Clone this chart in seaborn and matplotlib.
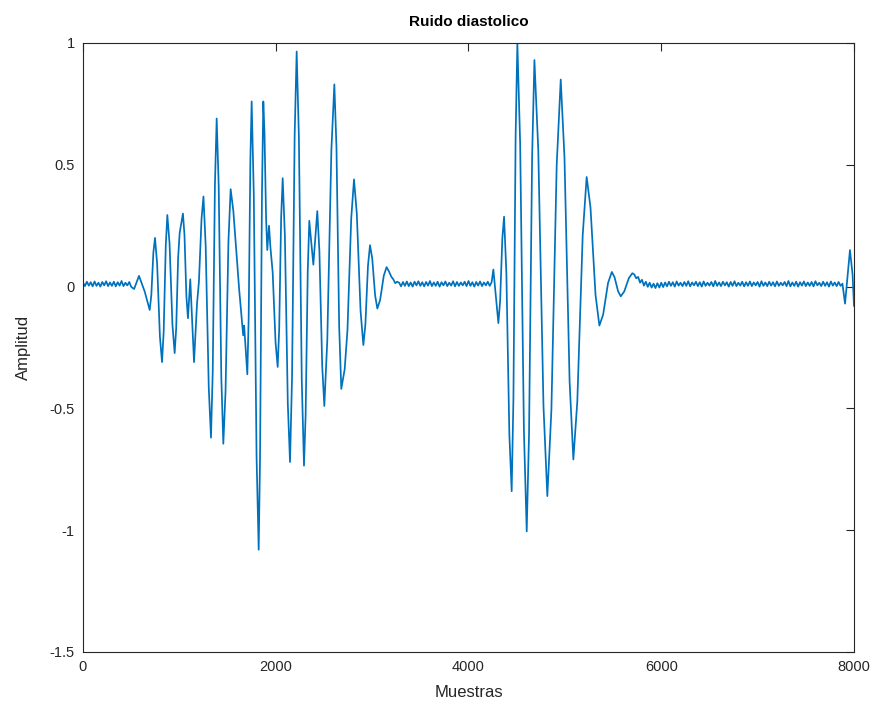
import numpy as np
import pandas as pd
import matplotlib
matplotlib.use("Agg")
import matplotlib.pyplot as plt
import seaborn as sns

# ---------------- data (sample index, amplitude) ----------------
lead_x = [0, 20, 40, 60, 80, 100, 120, 140, 160, 180, 200, 220, 240, 260, 280, 300,
          320, 340, 360, 380, 400, 420, 440, 460, 480, 500]
lead_y = [0.017, 0.002, 0.020, 0.004, 0.018, 0.001, 0.021, 0.003, 0.016, 0.000,
          0.019, 0.005, 0.022, 0.002, 0.017, 0.003, 0.020, 0.001, 0.018, 0.004,
          0.023, 0.002, 0.016, 0.005, 0.019, -0.001]

burst1_x = [530, 581, 640, 692, 709, 730, 747, 769, 798, 820, 837, 859, 875, 898, 928, 951,
            967, 987, 1003, 1037, 1053, 1073, 1089, 1113, 1152, 1183, 1203, 1230, 1250,
            1273, 1305, 1328, 1346, 1369, 1387, 1408, 1435, 1456, 1479, 1509, 1532, 1560,
            1620, 1662, 1672, 1705, 1719, 1737, 1750, 1772, 1801, 1823, 1837, 1857, 1871,
            1883, 1900, 1912, 1930, 1945, 1968, 1998, 2020, 2036, 2056, 2072, 2095, 2125,
            2148, 2169, 2196, 2217, 2240, 2270, 2293, 2310, 2332, 2348, 2390, 2431, 2453,
            2482, 2504, 2535, 2577, 2608, 2630, 2658, 2680, 2715, 2744, 2783, 2812, 2841,
            2880, 2909, 2930, 2957, 2978, 3001, 3031, 3054, 3083, 3121, 3150, 3175, 3200,
            3220, 3240, 3260]
burst1_y = [-0.01, 0.044, -0.02, -0.096, -0.035, 0.139, 0.20, 0.095, -0.205, -0.31, -0.186,
            0.17, 0.294, 0.177, -0.156, -0.273, -0.171, 0.118, 0.22, 0.30, 0.211, -0.041,
            -0.13, 0.03, -0.31, -0.07, 0.021, 0.279, 0.37, 0.166, -0.416, -0.62, -0.35,
            0.42, 0.69, 0.415, -0.37, -0.645, -0.43, 0.185, 0.40, 0.31, -0.01, -0.20,
            -0.16, -0.36, -0.129, 0.529, 0.76, 0.381, -0.701, -1.08, -0.701, 0.381, 0.76,
            0.634, 0.276, 0.15, 0.25, 0.16, 0.059, -0.229, -0.33, -0.17, 0.285, 0.445,
            0.205, -0.48, -0.72, -0.373, 0.618, 0.965, 0.615, -0.385, -0.735, -0.528,
            0.063, 0.27, 0.09, 0.31, 0.145, -0.325, -0.49, -0.218, 0.558, 0.83, 0.572,
            -0.163, -0.42, -0.34, -0.179, 0.279, 0.44, 0.30, -0.10, -0.24, -0.156, 0.086,
            0.17, 0.116, -0.036, -0.09, -0.055, 0.045, 0.08, 0.062, 0.04, 0.03, 0.014, 0.02]

gap_x = [3280, 3300, 3320, 3340, 3360, 3380, 3400, 3420, 3440, 3460,
         3480, 3500, 3520, 3540, 3560, 3580, 3600, 3620, 3640, 3660,
         3680, 3700, 3720, 3740, 3760, 3780, 3800, 3820, 3840, 3860,
         3880, 3900, 3920, 3940, 3960, 3980, 4000, 4020, 4040, 4060,
         4080, 4100, 4120, 4140, 4160, 4180, 4200, 4220, 4240]
gap_y = [0.016, 0.001, 0.019, 0.003, 0.021, 0.002, 0.017, 0.000, 0.020, 0.005,
         0.022, 0.003, 0.018, 0.001, 0.019, 0.004, 0.023, 0.002, 0.017, 0.003,
         0.020, 0.000, 0.018, 0.005, 0.021, 0.002, 0.016, 0.004, 0.022, 0.001,
         0.019, 0.003, 0.017, 0.005, 0.020, 0.002, 0.023, 0.003, 0.018, 0.000,
         0.019, 0.004, 0.021, 0.002, 0.017, 0.005, 0.020, 0.003, 0.018]

burst2_x = [4258, 4310, 4328, 4351, 4369, 4393, 4424, 4448, 4466, 4489, 4507, 4536, 4575,
            4604, 4628, 4660, 4684, 4724, 4778, 4818, 4860, 4915, 4957, 4996, 5049, 5088,
            5129, 5185, 5226, 5266, 5318, 5358, 5397, 5448, 5487, 5515, 5552, 5580, 5616,
            5664, 5700, 5720, 5740, 5760, 5780, 5800, 5820, 5840, 5860, 5880, 5900, 5920,
            5940, 5960, 5980, 6000, 6020]
burst2_y = [0.07, -0.15, -0.06, 0.197, 0.287, 0.055, -0.608, -0.84, -0.461, 0.621, 1.0,
            0.587, -0.592, -1.005, -0.606, 0.531, 0.93, 0.561, -0.491, -0.86, -0.508, 0.498,
            0.85, 0.529, -0.389, -0.71, -0.471, 0.211, 0.45, 0.324, -0.034, -0.16, -0.115,
            0.015, 0.06, 0.039, -0.019, -0.04, -0.02, 0.035, 0.055, 0.05, 0.034, 0.04,
            0.016, 0.028, 0.004, 0.02, -0.001, 0.016, -0.004, 0.012, -0.006, 0.014, -0.004,
            0.016, -0.002]

tail_x = [6040, 6060, 6080, 6100, 6120, 6140, 6160, 6180, 6200, 6220,
          6240, 6260, 6280, 6300, 6320, 6340, 6360, 6380, 6400, 6420,
          6440, 6460, 6480, 6500, 6520, 6540, 6560, 6580, 6600, 6620,
          6640, 6660, 6680, 6700, 6720, 6740, 6760, 6780, 6800, 6820,
          6840, 6860, 6880, 6900, 6920, 6940, 6960, 6980, 7000, 7020,
          7040, 7060, 7080, 7100, 7120, 7140, 7160, 7180, 7200, 7220,
          7240, 7260, 7280, 7300, 7320, 7340, 7360, 7380, 7400, 7420,
          7440, 7460, 7480, 7500, 7520, 7540, 7560, 7580, 7600, 7620,
          7640, 7660, 7680, 7700, 7720, 7740, 7760, 7780, 7800, 7820,
          7840, 7860]
tail_y = [0.017, 0.001, 0.020, 0.003, 0.018, 0.000, 0.021, 0.004, 0.016, 0.002,
          0.019, 0.003, 0.022, 0.001, 0.017, 0.005, 0.020, 0.002, 0.018, 0.000,
          0.021, 0.003, 0.016, 0.004, 0.019, 0.001, 0.023, 0.003, 0.017, 0.002,
          0.020, 0.005, 0.018, 0.000, 0.019, 0.003, 0.022, 0.002, 0.016, 0.004,
          0.020, 0.001, 0.018, 0.003, 0.021, 0.002, 0.017, 0.005, 0.019, 0.000,
          0.022, 0.003, 0.017, 0.002, 0.020, 0.004, 0.018, 0.001, 0.021, 0.003,
          0.016, 0.005, 0.019, 0.002, 0.023, 0.001, 0.017, 0.003, 0.020, 0.000,
          0.018, 0.004, 0.021, 0.002, 0.017, 0.003, 0.019, 0.001, 0.022, 0.005,
          0.016, 0.002, 0.020, 0.003, 0.018, 0.000, 0.021, 0.004, 0.017, 0.002,
          0.019, 0.003]

end_x = [7880, 7907, 7958, 7985, 8000]
end_y = [0.012, -0.07, 0.15, 0.05, -0.08]

x_ticks = [0, 2000, 4000, 6000, 8000]
x_tick_labels = ["0", "2000", "4000", "6000", "8000"]
y_ticks = [-1.5, -1, -0.5, 0, 0.5, 1]
y_tick_labels = ["-1.5", "-1", "-0.5", "0", "0.5", "1"]

title = "Ruido diastolico"
xlabel = "Muestras"
ylabel = "Amplitud"

# ---------------- build table ----------------
df = pd.DataFrame({
    "Muestras": lead_x + burst1_x + gap_x + burst2_x + tail_x + end_x,
    "Amplitud": lead_y + burst1_y + gap_y + burst2_y + tail_y + end_y,
})

# ---------------- plot ----------------
sns.set_style("white")
plt.rcParams["font.family"] = ["Liberation Sans", "DejaVu Sans"]

fig = plt.figure(figsize=(8.79, 7.08), dpi=100)
ax = fig.add_axes([83 / 879, 1 - 652 / 708, (854 - 83) / 879, (652 - 43) / 708])

sns.lineplot(data=df, x="Muestras", y="Amplitud", ax=ax, color="#0072BD",
             linewidth=1.25, estimator=None, sort=True)

ax.set_xlim(0, 8000)
ax.set_ylim(-1.5, 1)
ax.set_xticks(x_ticks)
ax.set_xticklabels(x_tick_labels)
ax.set_yticks(y_ticks)
ax.set_yticklabels(y_tick_labels)

dark = "#262626"
for s in ax.spines.values():
    s.set_visible(True)
    s.set_color(dark)
    s.set_linewidth(0.8)
ax.tick_params(axis="both", which="both", direction="in", length=5.5, width=0.8,
               colors=dark, labelsize=10.5, top=True, right=True, pad=6)

ax.set_title(title, fontsize=11, fontweight="bold", color="black", pad=12)
ax.set_xlabel(xlabel, fontsize=12, color=dark, labelpad=8)
ax.set_ylabel(ylabel, fontsize=12, color=dark, labelpad=13)

fig.savefig("out.png", dpi=100)
